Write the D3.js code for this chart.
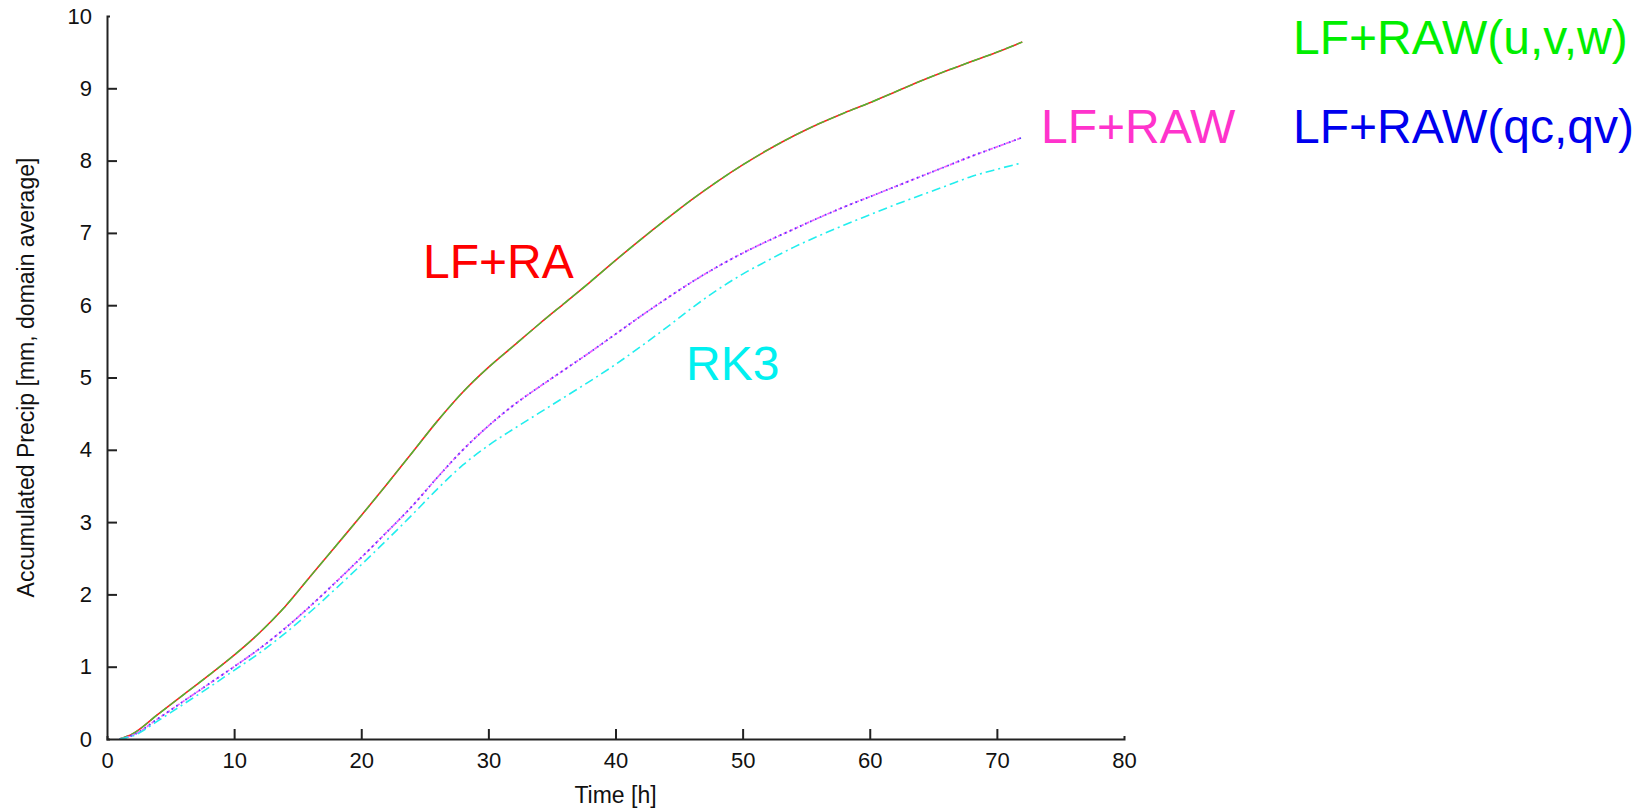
<!DOCTYPE html>
<html>
<head>
<meta charset="utf-8">
<script src="https://cdn.jsdelivr.net/npm/d3@7"></script>
<style>
  html, body { margin: 0; padding: 0; background: #fff; }
  svg { display: block; font-family: "Liberation Sans", Arial, Helvetica, sans-serif; }
</style>
</head>
<body>
<svg id="chart" width="1649" height="809"></svg>
<script>
// Forecast hour of each sample
const hours = [1, 2, 4, 6, 8, 10, 12, 14, 16, 18, 20, 22, 24, 26, 28, 30, 32, 34, 36,
               38, 40, 42, 44, 46, 48, 50, 52, 54, 56, 58, 60, 62, 64, 66, 68, 70, 72];

// Domain-averaged accumulated precipitation [mm] per scheme
const lfRa = [0, 0.07, 0.34, 0.61, 0.88, 1.16, 1.47, 1.83, 2.25, 2.67, 3.09, 3.52, 3.96,
              4.40, 4.80, 5.14, 5.44, 5.74, 6.03, 6.32, 6.62, 6.91, 7.19, 7.46, 7.71, 7.94,
              8.15, 8.34, 8.51, 8.66, 8.80, 8.95, 9.10, 9.24, 9.37, 9.50, 9.64];
const lfRawUvw = [0, 0.07, 0.34, 0.61, 0.88, 1.16, 1.47, 1.83, 2.25, 2.67, 3.09, 3.52, 3.96,
                  4.40, 4.80, 5.14, 5.44, 5.74, 6.03, 6.32, 6.62, 6.91, 7.19, 7.46, 7.71, 7.94,
                  8.15, 8.34, 8.51, 8.66, 8.80, 8.95, 9.10, 9.24, 9.37, 9.50, 9.64];
const lfRaw = [0, 0.05, 0.28, 0.52, 0.76, 1.00, 1.25, 1.53, 1.84, 2.17, 2.51, 2.86, 3.22,
               3.62, 4.00, 4.33, 4.62, 4.87, 5.11, 5.35, 5.60, 5.85, 6.09, 6.32, 6.53, 6.72,
               6.89, 7.05, 7.21, 7.36, 7.50, 7.64, 7.78, 7.92, 8.06, 8.19, 8.32];
const lfRawQcQv = [0, 0.05, 0.28, 0.52, 0.76, 1.00, 1.25, 1.53, 1.84, 2.17, 2.51, 2.86, 3.22,
                   3.62, 4.00, 4.33, 4.62, 4.87, 5.11, 5.35, 5.60, 5.85, 6.09, 6.32, 6.53, 6.72,
                   6.89, 7.05, 7.21, 7.36, 7.50, 7.64, 7.78, 7.92, 8.06, 8.19, 8.32];
const rk3 = [0, 0.04, 0.25, 0.48, 0.71, 0.95, 1.19, 1.46, 1.76, 2.08, 2.41, 2.75, 3.10,
             3.46, 3.79, 4.06, 4.29, 4.51, 4.73, 4.95, 5.18, 5.43, 5.69, 5.96, 6.21, 6.43,
             6.62, 6.80, 6.96, 7.11, 7.25, 7.39, 7.52, 7.65, 7.78, 7.88, 7.97];

// Axis ticks
const xTicks = [0, 10, 20, 30, 40, 50, 60, 70, 80];
const yTicks = [0, 1, 2, 3, 4, 5, 6, 7, 8, 9, 10];

// Series drawing order: solid first, overlays on top
const series = [
  { name: "LF+RA",         values: lfRa,      color: "#ff2020", width: 1.6, dash: null },
  { name: "LF+RAW(u,v,w)", values: lfRawUvw,  color: "#44c033", width: 1.4, dash: "9,3" },
  { name: "LF+RAW",        values: lfRaw,     color: "#f060ff", width: 1.7, dash: "4,2" },
  { name: "LF+RAW(qc,qv)", values: lfRawQcQv, color: "#5040ff", width: 1.8, dash: "1.5,4" },
  { name: "RK3",           values: rk3,       color: "#22eeee", width: 1.6, dash: "9,4,2,4" }
];

// In-plot labels
const labels = [
  { text: "LF+RAW(u,v,w)", color: "#00ee00", x: 1293, y: 54,  size: 48 },
  { text: "LF+RAW",        color: "#ff33cc", x: 1041, y: 143, size: 48 },
  { text: "LF+RAW(qc,qv)", color: "#0000ee", x: 1293, y: 143, size: 48 },
  { text: "LF+RA",         color: "#ff0000", x: 423,  y: 278, size: 48 },
  { text: "RK3",           color: "#00f0f0", x: 686,  y: 380, size: 48 }
];

const svg = d3.select("#chart");
svg.append("rect").attr("width", 1649).attr("height", 809).attr("fill", "#fff");

const plotLeft = 107, plotRight = 1124, plotTop = 16, plotBottom = 739;
const x = d3.scaleLinear().domain([0, 80]).range([plotLeft, plotRight]);
const y = d3.scaleLinear().domain([0, 10]).range([plotBottom, plotTop]);

// Curves
const line = d3.line()
  .x((d, i) => x(hours[i]))
  .y(d => y(d))
  .curve(d3.curveMonotoneX);

const plot = svg.append("g");
series.forEach(s => {
  plot.append("path")
    .datum(s.values)
    .attr("fill", "none")
    .attr("stroke", s.color)
    .attr("stroke-width", s.width)
    .attr("stroke-dasharray", s.dash)
    .attr("stroke-linejoin", "round")
    .attr("d", line);
});

// Axes with inward ticks
const axisColor = "#222";
const xAxis = svg.append("g")
  .attr("transform", `translate(0,${plotBottom})`)
  .call(d3.axisBottom(x).tickValues(xTicks).tickFormat(d3.format("d"))
    .tickSizeInner(-10).tickSizeOuter(-3).tickPadding(13));
const yAxis = svg.append("g")
  .attr("transform", `translate(${plotLeft},0)`)
  .call(d3.axisLeft(y).tickValues(yTicks).tickFormat(d3.format("d"))
    .tickSizeInner(-10).tickSizeOuter(-3).tickPadding(15));

[xAxis, yAxis].forEach(g => {
  g.select(".domain").attr("stroke", axisColor).attr("stroke-width", 2);
  g.selectAll(".tick line").attr("stroke", axisColor).attr("stroke-width", 2);
  g.selectAll(".tick text").attr("fill", "#111").attr("font-size", 22)
    .attr("font-family", "'Liberation Sans', Arial, sans-serif");
});
// The end ticks are only shown by the short caps of the axis line
xAxis.selectAll(".tick").filter(d => d === 0 || d === 80).select("line").remove();
yAxis.selectAll(".tick").filter(d => d === 0 || d === 10).select("line").remove();

// Axis titles
svg.append("text")
  .attr("x", (plotLeft + plotRight) / 2).attr("y", 803)
  .attr("text-anchor", "middle")
  .attr("font-size", 23).attr("fill", "#111")
  .text("Time [h]");
svg.append("text")
  .attr("transform", `translate(34,${(plotTop + plotBottom) / 2}) rotate(-90)`)
  .attr("text-anchor", "middle")
  .attr("font-size", 23).attr("fill", "#111")
  .text("Accumulated Precip [mm, domain average]");

// Series labels
labels.forEach(l => {
  svg.append("text")
    .attr("x", l.x).attr("y", l.y)
    .attr("font-size", l.size)
    .attr("fill", l.color)
    .text(l.text);
});
</script>
</body>
</html>
